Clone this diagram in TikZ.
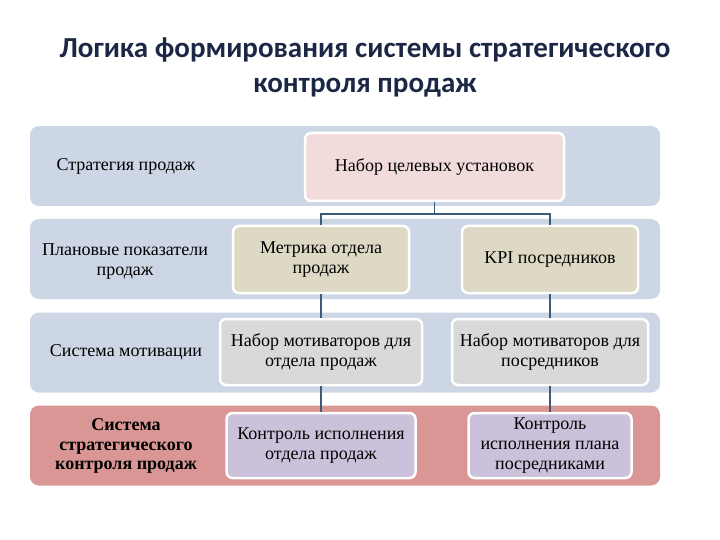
\documentclass[tikz,border=0pt]{standalone}
\usepackage{fontspec}
\setmainfont{Liberation Serif}
\newfontfamily\titlefont{Carlito}
\usepackage{tikz}
\usetikzlibrary{positioning}

\definecolor{bandblue}{HTML}{CDD6E4}
\definecolor{bandred}{HTML}{D99694}
\definecolor{goalpink}{HTML}{F2DCDB}
\definecolor{metrkhaki}{HTML}{DDD9C4}
\definecolor{motgray}{HTML}{D9D9D9}
\definecolor{ctrllav}{HTML}{CCC1DA}
\definecolor{titlenavy}{HTML}{1B2744}
\definecolor{linkblue}{HTML}{3C5A7A}

\tikzset{
  band/.style={rounded corners=9pt, minimum width=630pt, minimum height=80pt, inner sep=0pt},
  rowlabel/.style={font=\fontsize{18}{20}\selectfont, align=center, text=black},
  box/.style={draw=white, line width=2.5pt, rounded corners=6pt, align=center,
    font=\fontsize{18}{20}\selectfont, inner sep=0pt},
  link/.style={draw=linkblue, line width=1.5pt}
}

\begin{document}
\begin{tikzpicture}[x=1pt, y=-1pt]
\useasboundingbox (0,0) rectangle (720,540);

% title
\node[font=\titlefont\bfseries\fontsize{29}{35}\selectfont, text=titlenavy, align=center] (title) at (365,67)
  {Логика формирования системы стратегического\\контроля продаж};

% bands
\node[band, fill=bandblue] (band1) at (345,166) {};
\node[band, fill=bandblue] (band2) at (345,259) {};
\node[band, fill=bandblue] (band3) at (345,352.5) {};
\node[band, fill=bandred] (band4) at (345,445.5) {};

% row labels
\node[rowlabel] (strat) at (126,166) {Стратегия продаж};
\node[rowlabel] (plan) at (125,262) {Плановые показатели\\продаж};
\node[rowlabel] (motiv) at (126,352) {Система мотивации};
\node[rowlabel, font=\bfseries\fontsize{18}{19.5}\selectfont] (ctrl) at (126,446) {Система\\стратегического\\контроля продаж};

% boxes
\node[box, fill=goalpink, minimum width=259pt, minimum height=68pt] (goals) at (434.5,167) {Набор целевых установок};
\node[box, fill=metrkhaki, minimum width=176pt, minimum height=67pt] (metric) at (321,259.5) {Метрика отдела\\продаж};
\node[box, fill=metrkhaki, minimum width=176pt, minimum height=67pt] (kpi) at (550,259.5) {KPI посредников};
\node[box, fill=motgray, minimum width=202pt, minimum height=66pt] (motdept) at (321,352) {Набор мотиваторов для\\отдела продаж};
\node[box, fill=motgray, minimum width=196pt, minimum height=66pt] (motagent) at (550,352) {Набор мотиваторов для\\посредников};
\node[box, fill=ctrllav, minimum width=189pt, minimum height=65pt] (ctrldept) at (321,445.5) {Контроль исполнения\\отдела продаж};
\node[box, fill=ctrllav, minimum width=163pt, minimum height=65pt] (ctrlagent) at (550,445.5) {Контроль\\исполнения плана\\посредниками};

% links
\draw[link] (goals.south) -- ++(0,12) -| (metric.north);
\draw[link] (goals.south) -- ++(0,12) -| (kpi.north);
\draw[link] (metric) -- (motdept);
\draw[link] (kpi) -- (motagent);
\draw[link] (motdept) -- (ctrldept);
\draw[link] (motagent) -- (ctrlagent);
\end{tikzpicture}
\end{document}
